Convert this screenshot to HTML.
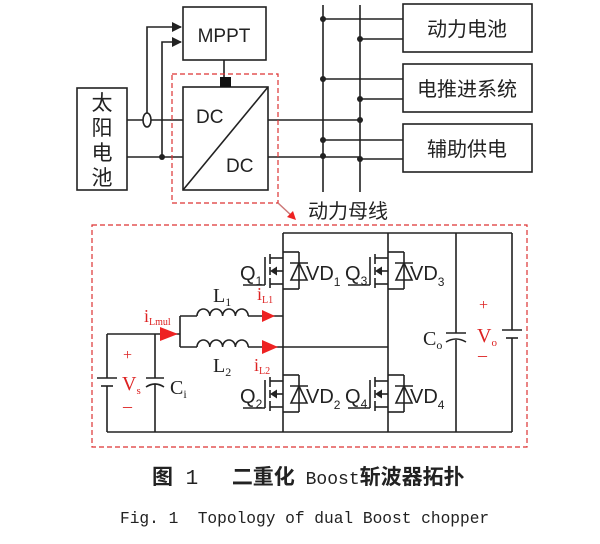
<!DOCTYPE html>
<html><head><meta charset="utf-8"><style>
html,body{margin:0;padding:0;background:#fff;}
svg{display:block;}
.s{font-family:"Liberation Sans","Noto Sans CJK SC",sans-serif;}
.r{font-family:"Liberation Serif","Noto Serif CJK SC",serif;}
</style></head><body>
<svg width="600" height="544" viewBox="0 0 600 544" xmlns="http://www.w3.org/2000/svg">
<defs>
<marker id="ab" markerWidth="10" markerHeight="10" refX="9" refY="5" orient="auto" markerUnits="userSpaceOnUse"><path d="M0,0 L10,5 L0,10 z" fill="#222"/></marker>
<g id="mos" stroke="#222" stroke-width="1.6" fill="none">
<line x1="-13" y1="2" x2="-13" y2="12"/><line x1="-13" y1="15" x2="-13" y2="23"/><line x1="-13" y1="26" x2="-13" y2="36"/>
<line x1="-18" y1="5" x2="-18" y2="33"/>
<line x1="-40" y1="33" x2="-18" y2="33"/>
<line x1="-13" y1="6" x2="0" y2="6"/><line x1="-13" y1="32" x2="0" y2="32"/>
<line x1="-8" y1="19" x2="0" y2="19"/>
<path d="M-13,19 L-6,14.5 L-6,23.5 z" fill="#222" stroke="none"/>
<line x1="0" y1="0" x2="16" y2="0"/><line x1="16" y1="0" x2="16" y2="37"/><line x1="0" y1="37" x2="16" y2="37"/>
<path d="M8,28 L24,28 L16,11 z"/><line x1="7" y1="11" x2="25" y2="11"/>
</g>
</defs>
<g stroke="#222" stroke-width="1.6" fill="none">
<rect x="77" y="88" width="50" height="102"/>
<rect x="183" y="7" width="83" height="53"/>
<rect x="183" y="87" width="85" height="103"/>
<line x1="183" y1="190" x2="268" y2="87"/>
<line x1="224" y1="60" x2="224" y2="78"/>
<rect x="403" y="4" width="129" height="48"/>
<rect x="403" y="64" width="129" height="48"/>
<rect x="403" y="124" width="129" height="48"/>
<line x1="127" y1="120" x2="183" y2="120"/>
<line x1="127" y1="157" x2="183" y2="157"/>
<polyline points="147,113 147,27 181,27" marker-end="url(#ab)"/>
<polyline points="162,157 162,42 181,42" marker-end="url(#ab)"/>
<line x1="268" y1="120" x2="360" y2="120"/>
<line x1="268" y1="157" x2="360" y2="157"/>
<line x1="323" y1="5" x2="323" y2="192"/>
<line x1="360" y1="5" x2="360" y2="192"/>
<line x1="323" y1="19" x2="403" y2="19"/><line x1="360" y1="39" x2="403" y2="39"/>
<line x1="323" y1="79" x2="403" y2="79"/><line x1="360" y1="99" x2="403" y2="99"/>
<line x1="323" y1="140" x2="403" y2="140"/><line x1="360" y1="159" x2="403" y2="159"/>
</g>
<ellipse cx="147" cy="120" rx="4" ry="7" fill="#fff" stroke="#222" stroke-width="1.6"/>
<rect x="220" y="77" width="11" height="10" fill="#111"/>
<g fill="#222">
<circle cx="162" cy="157" r="3"/>
<circle cx="323" cy="19" r="3"/><circle cx="360" cy="39" r="3"/>
<circle cx="323" cy="79" r="3"/><circle cx="360" cy="99" r="3"/>
<circle cx="360" cy="120" r="3"/><circle cx="323" cy="140" r="3"/>
<circle cx="323" cy="156" r="3"/><circle cx="360" cy="159" r="3"/>
</g>
<g class="s" fill="#222">
<text x="102" y="110" font-size="21" text-anchor="middle">太</text>
<text x="102" y="135" font-size="21" text-anchor="middle">阳</text>
<text x="102" y="160" font-size="21" text-anchor="middle">电</text>
<text x="102" y="185" font-size="21" text-anchor="middle">池</text>
<text x="224" y="42" font-size="19" text-anchor="middle">MPPT</text>
<text x="196" y="123" font-size="19">DC</text>
<text x="226" y="172" font-size="19">DC</text>
<text x="467" y="36" font-size="20" text-anchor="middle">动力电池</text>
<text x="467" y="96" font-size="20" text-anchor="middle">电推进系统</text>
<text x="467" y="156" font-size="20" text-anchor="middle">辅助供电</text>
<text x="308" y="218" font-size="20">动力母线</text>
</g>
<rect x="172" y="74" width="106" height="129" fill="none" stroke="#d33" stroke-width="1.2" stroke-dasharray="5,3"/>
<line x1="278" y1="203" x2="292" y2="216" stroke="#c77" stroke-width="1.5"/>
<path d="M296,220 L287,217 L293,211 z" fill="#e22"/>
<rect x="92" y="225" width="435" height="222" fill="none" stroke="#d33" stroke-width="1.2" stroke-dasharray="5,3"/>
<g stroke="#222" stroke-width="1.6" fill="none">
<line x1="283" y1="233" x2="512" y2="233"/>
<line x1="107" y1="432" x2="512" y2="432"/>
<line x1="107" y1="334" x2="107" y2="378"/><line x1="107" y1="386" x2="107" y2="432"/>
<line x1="97" y1="378" x2="117" y2="378"/><line x1="101" y1="386" x2="113" y2="386"/>
<line x1="107" y1="334" x2="180" y2="334"/>
<line x1="155" y1="334" x2="155" y2="378"/><line x1="155" y1="384" x2="155" y2="432"/>
<line x1="146" y1="378" x2="164" y2="378"/><path d="M146,387 Q155,381 164,387"/>
<line x1="180" y1="316" x2="180" y2="347"/>
<line x1="180" y1="316" x2="197" y2="316"/>
<path d="M197,316 a6.4,7 0 0 1 12.8,0 a6.4,7 0 0 1 12.8,0 a6.4,7 0 0 1 12.8,0 a6.4,7 0 0 1 12.8,0"/>
<line x1="248" y1="316" x2="283" y2="316"/>
<line x1="180" y1="347" x2="197" y2="347"/>
<path d="M197,347 a6.4,7 0 0 1 12.8,0 a6.4,7 0 0 1 12.8,0 a6.4,7 0 0 1 12.8,0 a6.4,7 0 0 1 12.8,0"/>
<line x1="248" y1="347" x2="388" y2="347"/>
<line x1="283" y1="233" x2="283" y2="432"/>
<line x1="388" y1="233" x2="388" y2="432"/>
<line x1="456" y1="233" x2="456" y2="333"/><line x1="456" y1="340" x2="456" y2="432"/>
<line x1="446" y1="333" x2="466" y2="333"/><path d="M446,342 Q456,336 466,342"/>
<line x1="512" y1="233" x2="512" y2="330"/><line x1="512" y1="338" x2="512" y2="432"/>
<line x1="502" y1="330" x2="522" y2="330"/><line x1="506" y1="338" x2="518" y2="338"/>
</g>
<use href="#mos" x="283" y="252"/>
<use href="#mos" x="283" y="375"/>
<use href="#mos" x="388" y="252"/>
<use href="#mos" x="388" y="375"/>
<g fill="#e22">
<path d="M160,327 L178,334 L160,341 z"/>
<path d="M262,310 L275,316 L262,322 z"/>
<path d="M262,340 L278,347 L262,354 z"/>
</g>
<g class="s" fill="#222" font-size="20">
<text x="240" y="280">Q<tspan font-size="12" dy="5">1</tspan></text>
<text x="306" y="280">VD<tspan font-size="12" dy="6">1</tspan></text>
<text x="345" y="280">Q<tspan font-size="12" dy="5">3</tspan></text>
<text x="410" y="280">VD<tspan font-size="12" dy="6">3</tspan></text>
<text x="240" y="403">Q<tspan font-size="12" dy="5">2</tspan></text>
<text x="306" y="403">VD<tspan font-size="12" dy="6">2</tspan></text>
<text x="345" y="403">Q<tspan font-size="12" dy="5">4</tspan></text>
<text x="410" y="403">VD<tspan font-size="12" dy="6">4</tspan></text>
</g>
<g class="r" fill="#222" font-size="20">
<text x="213" y="302">L<tspan font-size="12" dy="4">1</tspan></text>
<text x="213" y="372">L<tspan font-size="12" dy="4">2</tspan></text>
<text x="170" y="394">C<tspan font-size="12" dy="4">i</tspan></text>
<text x="423" y="345">C<tspan font-size="12" dy="4">o</tspan></text>
</g>
<g class="r" fill="#d22">
<text x="144" y="322" font-size="18">i<tspan font-size="10" dy="3">Lmul</tspan></text>
<text x="257" y="300" font-size="18">i<tspan font-size="10" dy="3">L1</tspan></text>
<text x="254" y="371" font-size="18">i<tspan font-size="10" dy="3">L2</tspan></text>
<text x="123" y="360" font-size="16">+</text>
<text x="122" y="390" font-size="20">V<tspan font-size="11" dy="4">s</tspan></text>
<text x="123" y="412" font-size="18">–</text>
<text x="479" y="310" font-size="16">+</text>
<text x="477" y="342" font-size="20">V<tspan font-size="11" dy="4">o</tspan></text>
<text x="478" y="361" font-size="18">–</text>
</g>
<text x="152" y="484" font-size="21" fill="#222" font-family="'Liberation Mono','Noto Sans CJK SC',monospace"><tspan font-family="'Noto Sans CJK SC',sans-serif" font-weight="bold">图</tspan> 1　 <tspan font-family="'Noto Sans CJK SC',sans-serif" font-weight="bold">二重化</tspan><tspan font-size="18"> Boost</tspan><tspan font-family="'Noto Sans CJK SC',sans-serif" font-weight="bold">斩波器拓扑</tspan></text>
<text x="120" y="523" font-size="16.2" fill="#222" style="white-space:pre" font-family="'Liberation Mono',monospace">Fig. 1  Topology of dual Boost chopper</text>
</svg>
</body></html>
